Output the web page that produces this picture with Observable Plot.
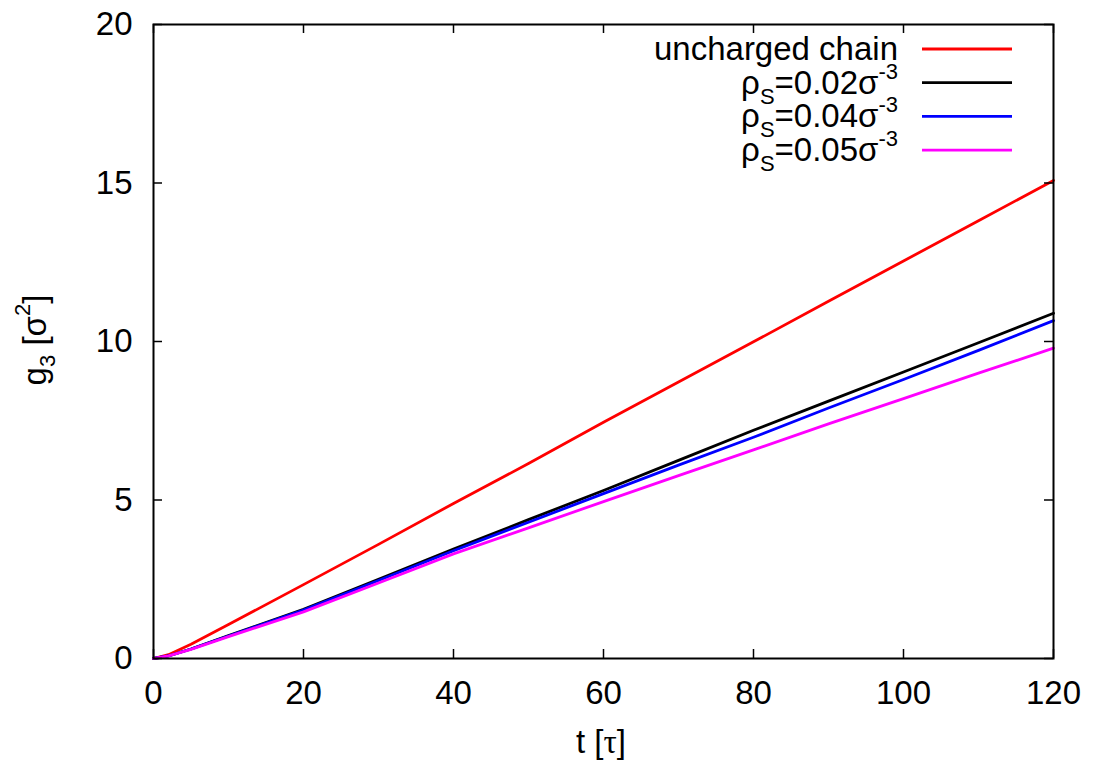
<!DOCTYPE html>
<html>
<head>
<meta charset="utf-8">
<script src="https://cdn.jsdelivr.net/npm/d3@7"></script>
<script src="https://cdn.jsdelivr.net/npm/@observablehq/plot@0.6"></script>
<style>
  html, body { margin: 0; padding: 0; background: #fff; }
  #chart svg { display: block; }
</style>
</head>
<body>
<div id="chart"></div>
<script>
// Time values t [tau]
const times = [0, 2, 5, 10, 20, 30, 40, 50, 60, 70, 80, 90, 100, 110, 120];
// g3 [sigma^2] for each series
const unchargedValues = [0, 0.12, 0.45, 1.07, 2.33, 3.6, 4.89, 6.15, 7.45, 8.72, 9.99, 11.27, 12.54, 13.81, 15.08];
const rho002Values = [0, 0.08, 0.30, 0.72, 1.55, 2.50, 3.45, 4.38, 5.30, 6.25, 7.20, 8.12, 9.04, 9.96, 10.89];
const rho004Values = [0, 0.08, 0.30, 0.71, 1.53, 2.46, 3.40, 4.30, 5.20, 6.10, 6.98, 7.90, 8.80, 9.72, 10.66];
const rho005Values = [0, 0.08, 0.29, 0.69, 1.47, 2.38, 3.30, 4.12, 4.95, 5.77, 6.58, 7.40, 8.20, 9.00, 9.79];

const seriesNames = ["uncharged chain", "rho0.02", "rho0.04", "rho0.05"];
const seriesColors = ["#ff0000", "#000000", "#0000ff", "#ff00ff"];
const seriesValues = [unchargedValues, rho002Values, rho004Values, rho005Values];
const legendLabels = [
  {plain: "uncharged chain"},
  {rho: "0.02"},
  {rho: "0.04"},
  {rho: "0.05"}
];

const xTicks = [0, 20, 40, 60, 80, 100, 120];
const yTicks = [0, 5, 10, 15, 20];

const rows = [];
seriesValues.forEach((vals, i) => {
  vals.forEach((v, j) => rows.push({t: times[j], g: v, s: seriesNames[i]}));
});

const W = 1096, H = 762;
const mL = 153, mR = 43, mT = 24, mB = 104;
const fw = W - mL - mR, fh = H - mT - mB;
const tick = 9;
const font = "'Liberation Sans', Arial, Helvetica, sans-serif";
const fs = 33;
const sfs = 22;

const plot = Plot.plot({
  width: W, height: H,
  marginLeft: mL, marginRight: mR, marginTop: mT, marginBottom: mB,
  style: {fontFamily: font, fontSize: fs + "px", color: "#000", background: "#fff", overflow: "visible"},
  x: {domain: [0, 120]},
  y: {domain: [0, 20]},
  color: {domain: seriesNames, range: seriesColors},
  marks: [
    Plot.line(rows, {x: "t", y: "g", z: "s", stroke: "s", strokeWidth: 2.8}),
    Plot.ruleX(xTicks, {x: d => d, insetTop: fh - tick, stroke: "#000", strokeWidth: 1.5}),
    Plot.ruleX(xTicks, {x: d => d, insetBottom: fh - tick, stroke: "#000", strokeWidth: 1.5}),
    Plot.ruleY(yTicks, {y: d => d, insetRight: fw - tick, stroke: "#000", strokeWidth: 1.5}),
    Plot.ruleY(yTicks, {y: d => d, insetLeft: fw - tick, stroke: "#000", strokeWidth: 1.5}),
    Plot.axisX(xTicks, {tickSize: 0, tickPadding: 22, label: null, fontSize: fs}),
    Plot.axisY(yTicks, {tickSize: 0, tickPadding: 21, label: null, fontSize: fs}),
    Plot.frame({stroke: "#000", strokeWidth: 2})
  ]
});

const svg = d3.select(plot);

// x label
const xl = svg.append("text")
  .attr("x", 601).attr("y", 753)
  .attr("text-anchor", "middle")
  .attr("font-family", font).attr("font-size", fs).attr("fill", "#000");
xl.append("tspan").text("t [");
xl.append("tspan").attr("font-family", "'Liberation Serif', 'DejaVu Serif', serif").text("τ");
xl.append("tspan").text("]");

// y label
const yl = svg.append("text")
  .attr("transform", "translate(46,340) rotate(-90)")
  .attr("text-anchor", "middle")
  .attr("font-family", font).attr("font-size", fs).attr("fill", "#000");
yl.append("tspan").text("g");
yl.append("tspan").attr("font-size", sfs).attr("dy", 9).text("3");
yl.append("tspan").attr("dy", -9).text(" [σ");
yl.append("tspan").attr("font-size", sfs).attr("dy", -16).text("2");
yl.append("tspan").attr("dy", 16).text("]");

// legend
const legend = svg.append("g");
legendLabels.forEach((lab, i) => {
  const cy = 49 + i * 33.7;
  legend.append("line")
    .attr("x1", 922).attr("x2", 1012).attr("y1", cy).attr("y2", cy)
    .attr("stroke", seriesColors[i]).attr("stroke-width", 2.8);
  const t = legend.append("text")
    .attr("x", 898).attr("y", cy + 11)
    .attr("text-anchor", "end")
    .attr("font-family", font).attr("font-size", fs).attr("fill", "#000");
  if (lab.plain) {
    t.text(lab.plain);
  } else {
    t.append("tspan").text("ρ");
    t.append("tspan").attr("font-size", sfs).attr("dy", 10).text("S");
    t.append("tspan").attr("dy", -10).text("=" + lab.rho + "σ");
    t.append("tspan").attr("font-size", sfs).attr("dy", -15).text("-3");
  }
});

document.getElementById("chart").appendChild(plot);
</script>
</body>
</html>
